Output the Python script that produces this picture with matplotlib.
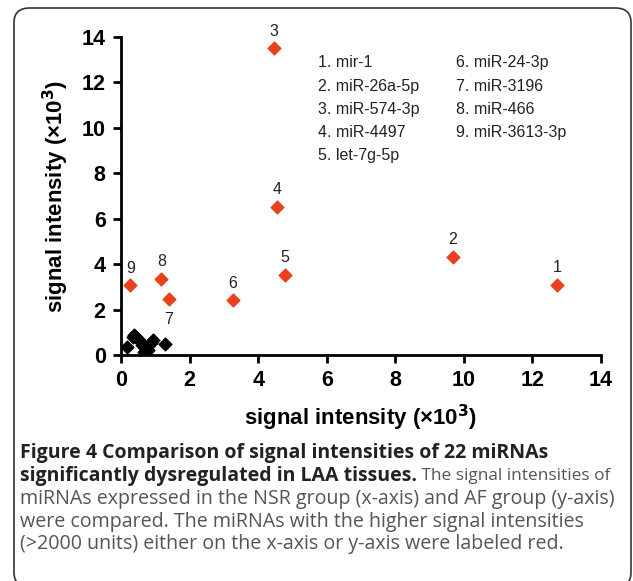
import matplotlib
matplotlib.use("Agg")
import matplotlib.pyplot as plt
from matplotlib.patches import FancyBboxPatch

# red (labelled) miRNAs, x = NSR group, y = AF group, in 10^3 units
red_labels = ["1", "2", "3", "4", "5", "6", "7", "8", "9"]
red_x = [12.72, 9.68, 4.46, 4.55, 4.79, 3.26, 1.39, 1.18, 0.27]
red_y = [3.09, 4.33, 13.50, 6.53, 3.53, 2.40, 2.48, 3.35, 3.06]

# the other 13 miRNAs (black), many overlap in the corner
black_x = [0.18, 0.39, 0.53, 0.70, 0.76, 0.94, 1.27, 0.45, 0.62, 0.80, 0.35, 0.68, 0.88]
black_y = [0.36, 0.87, 0.66, 0.30, 0.17, 0.66, 0.48, 0.78, 0.45, 0.22, 0.80, 0.12, 0.55]

names_left = ["1. mir-1", "2. miR-26a-5p", "3. miR-574-3p", "4. miR-4497", "5. let-7g-5p"]
names_right = ["6. miR-24-3p", "7. miR-3196", "8. miR-466", "9. miR-3613-3p"]

# label offsets (data units) relative to the point
lab_dy = [0.75, 0.75, 0.75, 0.75, 0.75, 0.75, -0.9, 0.75, 0.75]

caption_bold1 = "Figure 4 Comparison of signal intensities of 22 miRNAs"
caption_bold2 = "significantly dysregulated in LAA tissues."
caption_rest2 = " The signal intensities of"
caption_lines = [
    "miRNAs expressed in the NSR group (x-axis) and AF group (y-axis)",
    "were compared. The miRNAs with the higher signal intensities",
    "(>2000 units) either on the x-axis or y-axis were labeled red.",
]

plt.rcParams['font.family'] = ['Liberation Sans', 'DejaVu Sans']

W, H = 633, 581
fig = plt.figure(figsize=(W / 100, H / 100), dpi=100)
fig.patch.set_facecolor("white")

# rounded frame round the figure (bottom edge runs off the picture)
frame = FancyBboxPatch((14 / W, -6 / H), 617 / W, 579 / H,
                       boxstyle="round,pad=0,rounding_size=0.025",
                       transform=fig.transFigure, fill=False,
                       edgecolor="#333333", linewidth=1.2)
fig.patches.append(frame)

ax = fig.add_axes([121 / W, 1 - 355 / H, 480 / W, 318 / H])
ax.scatter(black_x, black_y, marker="D", s=42, color="black", zorder=3)
ax.scatter(red_x, red_y, marker="D", s=42, color="#e8411c", zorder=3)

for lab, x, y, dy in zip(red_labels, red_x, red_y, lab_dy):
    ax.text(x, y + dy, lab, ha="center", va="center", fontsize=11.5, color="#222222")

for i, t in enumerate(names_left):
    ax.text(5.76, 12.86 - i * 1.02, t, fontsize=11.5, va="center", color="#222222")
for i, t in enumerate(names_right):
    ax.text(9.76, 12.86 - i * 1.02, t, fontsize=11.5, va="center", color="#222222")

ax.set_xlim(0, 14)
ax.set_ylim(0, 14)
ax.set_xticks(range(0, 15, 2))
ax.set_yticks(range(0, 15, 2))
for s in ["top", "right"]:
    ax.spines[s].set_visible(False)
for s in ["left", "bottom"]:
    ax.spines[s].set_linewidth(2)
ax.tick_params(width=2, length=6, labelsize=15.5, pad=5)
for lb in ax.get_xticklabels() + ax.get_yticklabels():
    lb.set_fontweight("bold")

ax.set_xlabel("signal intensity (×10$^\\mathbf{3}$)", fontsize=16, fontweight="bold", labelpad=8)
ax.set_ylabel("signal intensity (×10$^\\mathbf{3}$)", fontsize=16, fontweight="bold", labelpad=8)

# caption below
cap_font = ["Open Sans", "DejaVu Sans"]
cap_x = 20 / W
fig.text(cap_x, 1 - 453 / H, caption_bold1, fontsize=14, fontweight="bold",
         color="#222222", va="center", family=cap_font)
t = fig.text(cap_x, 1 - 476 / H, caption_bold2, fontsize=14, fontweight="bold",
             color="#222222", va="center", family=cap_font)
fig.canvas.draw()
bb = t.get_window_extent()
fig.text(bb.x1 / fig.bbox.width, 1 - 476 / H, caption_rest2, fontsize=12.4,
         color="#555555", va="center", family=cap_font)
for i, line in enumerate(caption_lines):
    fig.text(cap_x, 1 - (499 + 22.5 * i) / H, line, fontsize=14.1,
             color="#555555", va="center", family=cap_font)

fig.savefig("out.png", dpi=100)
